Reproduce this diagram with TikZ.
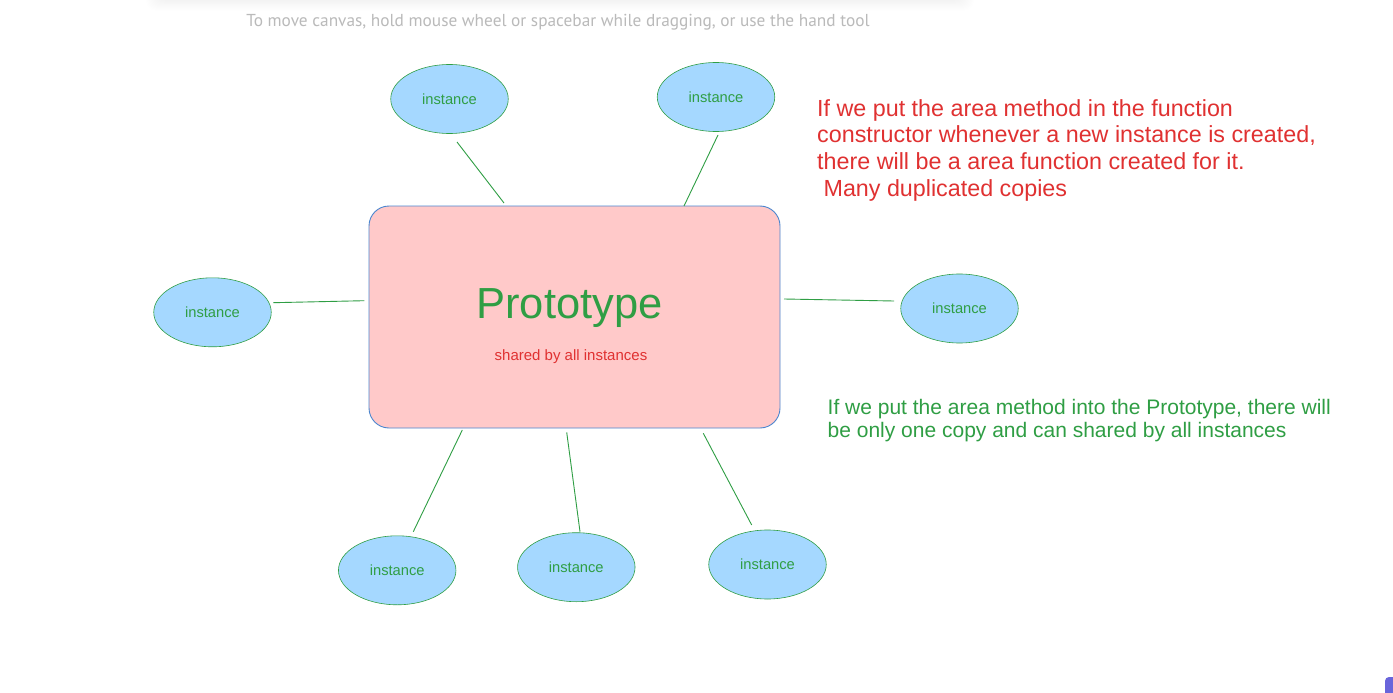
\documentclass[tikz,border=0pt]{standalone}
\usepackage{fontspec}
\setmainfont{Liberation Sans}
\newfontfamily\hintfont{PT Sans}
\usetikzlibrary{shapes.geometric}
\definecolor{exred}{HTML}{E03131}
\definecolor{exgreen}{HTML}{2F9E44}
\definecolor{expink}{HTML}{FFC9C9}
\definecolor{exblue}{HTML}{A5D8FF}
\definecolor{exstroke}{HTML}{4A86CF}
\definecolor{hintgray}{HTML}{BABABA}
\definecolor{expurple}{HTML}{6965DB}
\begin{document}
\begin{tikzpicture}[x=1pt,y=-1pt,
  inst/.style={ellipse, draw=exgreen, line width=0.6pt, fill=exblue,
    minimum width=117.5pt, minimum height=69pt, inner sep=0pt,
    text=exgreen, font=\fontsize{14.7}{17}\selectfont},
  protobox/.style={rectangle, rounded corners=20pt, draw=exstroke, line width=0.9pt,
    fill=expink, minimum width=411pt, minimum height=222pt, inner sep=0pt},
  link/.style={draw=exgreen, line width=0.9pt},
  note/.style={anchor=north west, align=left, inner sep=0pt}]
\useasboundingbox (0,0) rectangle (1393,693);
\fill[white] (0,0) rectangle (1393,693);
% top panel shadow
\foreach \i in {1,...,12}
  \fill[black, opacity=0.005, rounded corners=10pt] (158-\i,-30) rectangle (962+\i, 0.9*\i);
\fill[white] (150,-30) rectangle (970,0);
\node[anchor=base, inner sep=0pt, text=hintgray, font=\hintfont\fontsize{17.3}{19}\selectfont]
  (hint) at (558,26.7) {To move canvas, hold mouse wheel or spacebar while dragging, or use the hand tool};
% prototype
\node[protobox] (proto) at (574.5,317) {};
\node[anchor=base, inner sep=0pt, text=exgreen, font=\fontsize{43.5}{50}\selectfont]
  (ptitle) at (569.5,318.3) {Prototype};
\node[anchor=base, inner sep=0pt, text=exred, font=\fontsize{15}{18}\selectfont]
  (pshared) at (571,360.7) {shared by all instances};
% instances
\node[inst] (tl) at (449.5,99) {instance};
\node[inst] (tr) at (716,97) {instance};
\node[inst] (le) at (212.5,312.3) {instance};
\node[inst] (ri) at (959.5,308.5) {instance};
\node[inst] (bl) at (397.2,570.3) {instance};
\node[inst] (bm) at (576.3,567.2) {instance};
\node[inst] (br) at (767.5,564.5) {instance};
% connector end points
\coordinate (tlA) at (457,142);   \coordinate (tlB) at (504,203);
\coordinate (trA) at (718,135);   \coordinate (trB) at (684,206);
\coordinate (leA) at (273.3,302.7); \coordinate (leB) at (364.3,300.7);
\coordinate (riA) at (894,301);   \coordinate (riB) at (784,299);
\coordinate (blA) at (413.3,531.7); \coordinate (blB) at (462.3,430);
\coordinate (bmA) at (580,531.7); \coordinate (bmB) at (566.7,432.3);
\coordinate (brA) at (751.7,525); \coordinate (brB) at (703.3,433.3);
\draw[link] (tlA) -- (tlB);
\draw[link] (trA) -- (trB);
\draw[link] (leA) -- (leB);
\draw[link] (riA) -- (riB);
\draw[link] (blA) -- (blB);
\draw[link] (bmA) -- (bmB);
\draw[link] (brA) -- (brB);
% notes
\node[note, text=exred, font=\fontsize{23.3}{26.7}\selectfont] (rednote) at (817,99)
  {If we put the area method in the function\\
   constructor whenever a new instance is created,\\
   there will be a area function created for it.\\
   \hspace*{6.4pt}Many duplicated copies};
\node[note, text=exgreen, font=\fontsize{21}{23.8}\selectfont] (greennote) at (827.5,398.7)
  {If we put the area method into the Prototype, there will\\
   be only one copy and can shared by all instances};
% corner widget
\fill[expurple, rounded corners=4pt] (1385,677) rectangle (1405,705);
\end{tikzpicture}
\end{document}
